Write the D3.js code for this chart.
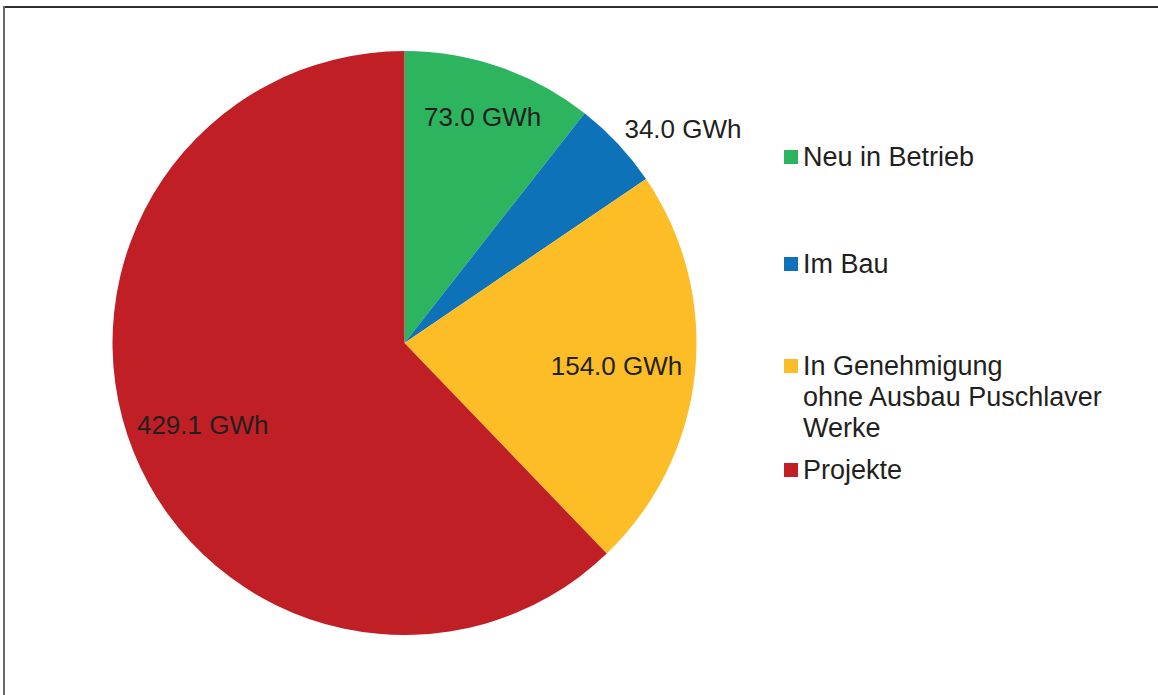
<!DOCTYPE html>
<html lang="de">
<head>
<meta charset="utf-8">
<title>Energieproduktion nach Status</title>
<script src="https://cdn.jsdelivr.net/npm/d3@7"></script>
<style>
  html, body { margin: 0; padding: 0; background: #ffffff; }
  svg { display: block; }
  text { font-family: "Liberation Sans", Arial, Helvetica, sans-serif; fill: #231f20; }
</style>
</head>
<body>
<svg id="chart" width="1158" height="695"></svg>
<script>
// Kategorien und Jahresproduktion in GWh
const categories = ["Neu in Betrieb", "Im Bau", "In Genehmigung ohne Ausbau Puschlaver Werke", "Projekte"];
const legendLines = [["Neu in Betrieb"], ["Im Bau"], ["In Genehmigung", "ohne Ausbau Puschlaver", "Werke"], ["Projekte"]];
const values = [73.0, 34.0, 154.0, 429.1];
const colors = ["#2db45f", "#0e72b9", "#fcbd26", "#c11f26"];

const svg = d3.select("#chart");
const W = 1158, H = 695;

// Rahmen (oben und links)
svg.append("line").attr("x1", 3).attr("x2", W).attr("y1", 7).attr("y2", 7)
  .attr("stroke", "#2e2e2e").attr("stroke-width", 2);
svg.append("line").attr("x1", 4).attr("x2", 4).attr("y1", 6).attr("y2", H)
  .attr("stroke", "#6a6a6a").attr("stroke-width", 2);

// Kreisdiagramm
const cx = 404.5, cy = 343, R = 292;
const pie = d3.pie().sort(null).value(d => d.value);
const arcs = pie(categories.map((c, i) => ({ name: c, value: values[i], color: colors[i] })));
const arc = d3.arc().innerRadius(0).outerRadius(R);

const g = svg.append("g").attr("transform", `translate(${cx},${cy})`);
g.selectAll("path.slice")
  .data(arcs)
  .join("path")
  .attr("class", "slice")
  .attr("d", arc)
  .attr("fill", d => d.data.color);

// Datenbeschriftungen: innen zentriert, kleine Segmente aussen
const labelSize = 26, legendSize = 27;
const labelPlacement = [
  { inside: true, k: 0.82 },
  { inside: false, gap: 9 },
  { inside: true, k: 0.73 },
  { inside: true, k: 0.745 }
];
const fmt = d3.format(".1f");
g.selectAll("text.value")
  .data(arcs)
  .join("text")
  .attr("class", "value")
  .attr("font-size", labelSize)
  .each(function (d, i) {
    const a = (d.startAngle + d.endAngle) / 2;
    const p = labelPlacement[i];
    const t = d3.select(this).text(fmt(d.data.value) + " GWh");
    if (p.inside) {
      const r = R * p.k;
      t.attr("x", Math.sin(a) * r).attr("y", -Math.cos(a) * r)
        .attr("dy", "0.36em").attr("text-anchor", "middle");
    } else {
      const r = R + p.gap;
      t.attr("x", Math.sin(a) * r).attr("y", -Math.cos(a) * r)
        .attr("text-anchor", "start");
    }
  });

// Legende
const legendX = 784, sq = 14, lineH = 31;
const legendTops = [150, 257, 359, 463];
const legend = svg.append("g");
legendLines.forEach((lines, i) => {
  const y0 = legendTops[i];
  legend.append("rect")
    .attr("x", legendX).attr("y", y0).attr("width", sq).attr("height", sq)
    .attr("fill", colors[i]);
  const t = legend.append("text")
    .attr("x", legendX + sq + 5)
    .attr("y", y0 + 16)
    .attr("font-size", legendSize);
  lines.forEach((ln, j) => {
    t.append("tspan")
      .attr("x", legendX + sq + 5)
      .attr("dy", j === 0 ? 0 : lineH)
      .text(ln);
  });
});
</script>
</body>
</html>
